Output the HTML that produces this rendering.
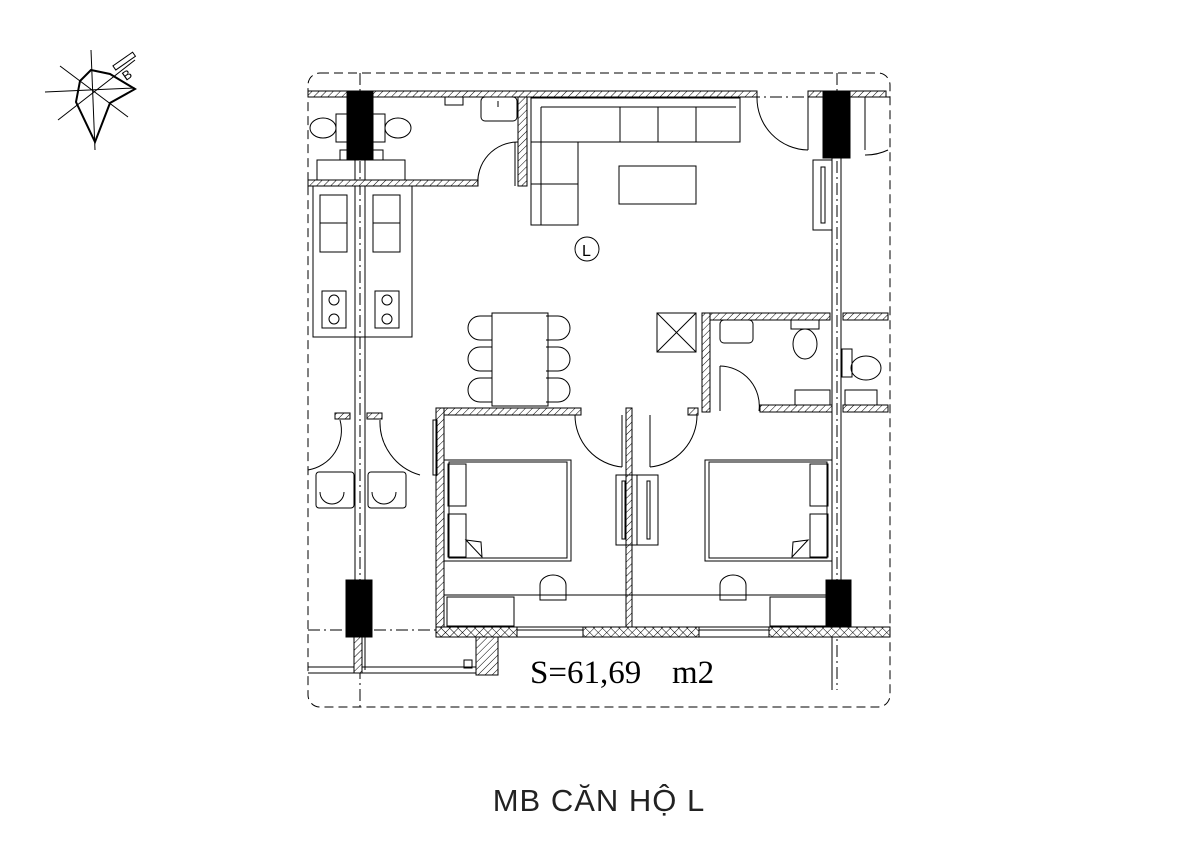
<!DOCTYPE html>
<html><head><meta charset="utf-8"><style>
html,body{margin:0;padding:0;background:#fff;width:1200px;height:848px;overflow:hidden}
</style></head><body>
<svg width="1200" height="848" viewBox="0 0 1200 848" xmlns="http://www.w3.org/2000/svg">
<defs>
<pattern id="h" width="5" height="5" patternUnits="userSpaceOnUse" patternTransform="rotate(45)">
<rect width="5" height="5" fill="#fff"/><line x1="0" y1="0" x2="0" y2="5" stroke="#000" stroke-width="1"/></pattern>
<pattern id="x" width="6" height="6" patternUnits="userSpaceOnUse" patternTransform="rotate(45)">
<rect width="6" height="6" fill="#fff"/><line x1="0" y1="0" x2="0" y2="6" stroke="#000" stroke-width="1"/><line x1="0" y1="0" x2="6" y2="0" stroke="#000" stroke-width="1"/></pattern>
</defs>
<g fill="none" stroke="#000" stroke-width="1">
<!-- north arrow -->
<g stroke-width="1">
<line x1="45" y1="92" x2="135" y2="88"/><line x1="91" y1="50" x2="95" y2="150"/>
<line x1="60" y1="66" x2="128" y2="117"/><line x1="58" y1="120" x2="135" y2="60"/>
</g>
<path d="M91 70 L110 74 L135 89 L110 103 L95 142 L76 102 L80 81 Z" stroke-width="2"/>
<g transform="rotate(-35 128 70)"><rect x="118" y="58" width="24" height="5"/><text x="120" y="78" font-family="Liberation Sans,sans-serif" font-size="13" fill="#000" stroke="none">B</text></g>

<!-- dashed boundary -->
<rect x="308" y="73" width="582" height="634" rx="12" stroke-dasharray="9,5"/>
<line x1="308" y1="97" x2="890" y2="97" stroke-dasharray="12,4,2,4"/>
<line x1="308" y1="630" x2="890" y2="630" stroke-dasharray="12,4,2,4"/>
<line x1="360" y1="73" x2="360" y2="707" stroke-dasharray="12,4,2,4"/>
<line x1="837" y1="73" x2="837" y2="690" stroke-dasharray="12,4,2,4"/>

<!-- top wall -->
<rect x="308" y="91" width="449" height="6" fill="url(#h)"/>
<rect x="808" y="91" width="78" height="6" fill="url(#h)"/>
<path d="M757 97 A52 52 0 0 0 808 150"/><line x1="808" y1="97" x2="808" y2="150"/>
<path d="M888 150 A52 52 0 0 1 865 155"/><line x1="865" y1="97" x2="865" y2="150"/>

<!-- columns -->
<rect x="347" y="91" width="26" height="69" fill="#000"/>
<rect x="823" y="91" width="27" height="67" fill="#000"/>
<rect x="346" y="580" width="26" height="57" fill="#000"/>
<rect x="826" y="580" width="25" height="57" fill="#000"/>
<line x1="355" y1="160" x2="355" y2="670"/><line x1="365" y1="160" x2="365" y2="670"/>
<line x1="832" y1="158" x2="832" y2="690"/><line x1="841" y1="158" x2="841" y2="580"/>

<!-- WC top left -->
<rect x="308" y="180" width="170" height="6" fill="url(#h)"/>
<rect x="518" y="97" width="9" height="89" fill="url(#h)"/>
<path d="M478 186 A40 40 0 0 1 518 142"/><line x1="515" y1="142" x2="515" y2="186"/>
<rect x="481" y="97" width="36" height="24" rx="4"/><line x1="498" y1="101" x2="498" y2="107"/>
<rect x="445" y="97" width="18" height="8"/>
<ellipse cx="323" cy="128" rx="13" ry="10"/><rect x="336" y="114" width="14" height="28"/>
<ellipse cx="398" cy="128" rx="13" ry="10"/><rect x="371" y="114" width="14" height="28"/>
<rect x="340" y="150" width="10" height="10"/><rect x="373" y="150" width="10" height="10"/>
<rect x="317" y="160" width="88" height="20"/>

<!-- kitchen -->
<rect x="313" y="186" width="52" height="151"/><rect x="365" y="186" width="47" height="151"/>
<rect x="320" y="195" width="27" height="57"/><line x1="320" y1="223" x2="347" y2="223"/>
<rect x="373" y="195" width="27" height="57"/><line x1="373" y1="223" x2="400" y2="223"/>
<rect x="322" y="291" width="24" height="37"/><circle cx="334" cy="300" r="5"/><circle cx="334" cy="319" r="5"/>
<rect x="375" y="291" width="24" height="37"/><circle cx="387" cy="300" r="5"/><circle cx="387" cy="319" r="5"/>

<!-- sofa -->
<path d="M531 98 L740 98 L740 142 L578 142 L578 225 L531 225 Z"/>
<line x1="541" y1="107" x2="736" y2="107"/>
<line x1="620" y1="107" x2="620" y2="142"/><line x1="658" y1="107" x2="658" y2="142"/><line x1="696" y1="107" x2="696" y2="142"/>
<line x1="531" y1="142" x2="578" y2="142"/><line x1="531" y1="184" x2="578" y2="184"/>
<line x1="541" y1="107" x2="541" y2="225"/>
<rect x="619" y="166" width="77" height="38"/>
<circle cx="587" cy="249" r="12"/>
<text x="582" y="256" font-family="Liberation Sans,sans-serif" font-size="16" fill="#000" stroke="none">L</text>
<rect x="813" y="160" width="19" height="70"/><rect x="821" y="167" width="4" height="56"/>

<!-- dining -->
<rect x="492" y="313" width="56" height="93"/>
<g>
<path d="M492 316 L480 316 A12 12 0 0 0 480 340 L492 340"/>
<path d="M492 347 L480 347 A12 12 0 0 0 480 371 L492 371"/>
<path d="M492 378 L480 378 A12 12 0 0 0 480 402 L492 402"/>
<path d="M546 316 L558 316 A12 12 0 0 1 558 340 L546 340"/>
<path d="M546 347 L558 347 A12 12 0 0 1 558 371 L546 371"/>
<path d="M546 378 L558 378 A12 12 0 0 1 558 402 L546 402"/>
</g>
<rect x="657" y="313" width="39" height="39"/><line x1="657" y1="313" x2="696" y2="352"/><line x1="696" y1="313" x2="657" y2="352"/>

<!-- right bath -->
<rect x="702" y="313" width="128" height="7" fill="url(#h)"/>
<rect x="843" y="313" width="45" height="7" fill="url(#h)"/>
<rect x="702" y="313" width="8" height="99" fill="url(#h)"/>
<rect x="760" y="405" width="72" height="7" fill="url(#h)"/>
<rect x="843" y="405" width="45" height="7" fill="url(#h)"/>
<path d="M759 411 A40 40 0 0 0 720 366"/><line x1="720" y1="366" x2="720" y2="411"/>
<rect x="720" y="320" width="33" height="23" rx="4"/>
<rect x="791" y="320" width="28" height="9"/><ellipse cx="805" cy="344" rx="12" ry="15"/>
<rect x="842" y="349" width="10" height="28"/><ellipse cx="866" cy="368" rx="15" ry="12"/>
<rect x="795" y="390" width="35" height="15"/><rect x="845" y="390" width="32" height="15"/>

<!-- bedrooms walls -->
<rect x="436" y="408" width="145" height="7" fill="url(#h)"/>
<rect x="688" y="408" width="10" height="7" fill="url(#h)"/>
<rect x="436" y="408" width="8" height="229" fill="url(#h)"/>
<rect x="626" y="408" width="6" height="222" fill="url(#h)"/>
<path d="M575 415 A52 52 0 0 0 622 467"/><line x1="622" y1="415" x2="622" y2="467"/>
<path d="M697 415 A52 52 0 0 1 650 467"/><line x1="650" y1="415" x2="650" y2="467"/>
<rect x="436" y="627" width="454" height="10" fill="url(#x)"/>
<rect x="517" y="627" width="66" height="10" fill="#fff"/>
<rect x="699" y="627" width="70" height="10" fill="#fff"/>
<line x1="517" y1="630" x2="583" y2="630"/><line x1="699" y1="630" x2="769" y2="630"/>
<rect x="433" y="420" width="4" height="55"/>
<rect x="444" y="460" width="127" height="101"/><rect x="449" y="462" width="118" height="96"/>
<rect x="448" y="464" width="18" height="42"/><rect x="448" y="514" width="18" height="43"/>
<path d="M466 540 L481 542 L482 557 Z"/>
<rect x="705" y="460" width="127" height="101"/><rect x="709" y="462" width="118" height="96"/>
<rect x="810" y="464" width="18" height="42"/><rect x="810" y="514" width="18" height="43"/>
<path d="M808 540 L793 542 L792 557 Z"/>
<rect x="616" y="475" width="21" height="70"/><rect x="622" y="481" width="3" height="58"/>
<rect x="637" y="475" width="21" height="70"/><rect x="647" y="481" width="3" height="58"/>
<line x1="444" y1="595" x2="832" y2="595"/>
<rect x="447" y="597" width="67" height="29"/><rect x="770" y="597" width="56" height="29"/>
<path d="M540 600 L540 585 A13 10 0 0 1 566 585 L566 600 Z"/>
<path d="M720 600 L720 585 A13 10 0 0 1 746 585 L746 600 Z"/>
<rect x="335" y="413" width="15" height="6" fill="url(#h)"/><rect x="367" y="413" width="15" height="6" fill="url(#h)"/>
<path d="M308 470 A40 40 0 0 0 340 420"/><path d="M380 420 A55 55 0 0 0 420 475"/>
<rect x="316" y="472" width="38" height="36" rx="3"/><rect x="368" y="472" width="38" height="36" rx="3"/>
<path d="M320 492 A12 12 0 0 0 344 492"/><path d="M372 492 A12 12 0 0 0 396 492"/>
<line x1="308" y1="667" x2="480" y2="667"/><line x1="308" y1="673" x2="480" y2="673"/>
<rect x="354" y="637" width="8" height="36" fill="url(#h)"/>
<rect x="476" y="637" width="22" height="38" fill="url(#h)"/>
<rect x="464" y="660" width="8" height="8"/>
</g>
<text x="530" y="683" font-family="Liberation Serif,serif" font-size="33" fill="#000">S=61,69</text>
<text x="672" y="683" font-family="Liberation Serif,serif" font-size="33" fill="#000">m2</text>
<text x="599" y="811" text-anchor="middle" font-family="Liberation Sans,sans-serif" font-size="31" letter-spacing="1" fill="#222">MB CĂN HỘ L</text>
</svg>
</body></html>
